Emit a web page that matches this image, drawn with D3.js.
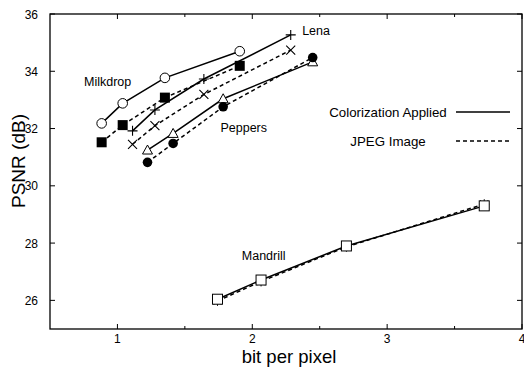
<!DOCTYPE html>
<html>
<head>
<meta charset="utf-8">
<script src="https://cdn.jsdelivr.net/npm/d3@7"></script>
<style>
  body { margin: 0; background: #fff; }
  text { font-family: "Liberation Sans", Arial, sans-serif; fill: #000; }
</style>
</head>
<body>
<svg id="chart" width="524" height="368"></svg>
<script>
// bit per pixel for each image (same rates for both codecs)
var milkdropX = [0.883, 1.039, 1.352, 1.907];
var milkdropColor = [32.18, 32.88, 33.77, 34.70];
var milkdropJpeg = [31.52, 32.12, 33.08, 34.19];

var lenaX = [1.112, 1.278, 1.641, 2.285];
var lenaColor = [31.92, 32.65, 33.73, 35.27];
var lenaJpeg = [31.45, 32.10, 33.19, 34.74];

var peppersX = [1.223, 1.413, 1.784, 2.448];
var peppersColor = [31.25, 31.83, 33.04, 34.33];
var peppersJpeg = [30.82, 31.48, 32.76, 34.48];

var mandrillX = [1.742, 2.065, 2.698, 3.72];
var mandrillColor = [26.04, 26.71, 27.90, 29.30];
var mandrillJpeg = [25.98, 26.66, 27.87, 29.36];

var xTicks = [1, 2, 3, 4];
var xMinor = [1.5, 2.5, 3.5];
var yTicks = [26, 28, 30, 32, 34, 36];

var svg = d3.select("#chart");
// note: "top" is taken by window.top, so use plot* names
var plotL = 50, plotR = 522, plotT = 14, plotB = 329;

var x = d3.scaleLinear().domain([0.5, 4]).range([plotL, plotR]);
var y = d3.scaleLinear().domain([25, 36]).range([plotB, plotT]);

// frame
svg.append("rect")
  .attr("x", plotL).attr("y", plotT)
  .attr("width", plotR - plotL).attr("height", plotB - plotT)
  .attr("fill", "none").attr("stroke", "#000").attr("stroke-width", 1.3);

// ticks, gnuplot style (inward, mirrored)
var ticks = svg.append("g").attr("stroke", "#000").attr("stroke-width", 1);
xTicks.forEach(function(t) {
  ticks.append("line").attr("x1", x(t)).attr("x2", x(t)).attr("y1", plotB).attr("y2", plotB - 5);
  ticks.append("line").attr("x1", x(t)).attr("x2", x(t)).attr("y1", plotT).attr("y2", plotT + 5);
});
xMinor.forEach(function(t) {
  ticks.append("line").attr("x1", x(t)).attr("x2", x(t)).attr("y1", plotB).attr("y2", plotB - 3);
  ticks.append("line").attr("x1", x(t)).attr("x2", x(t)).attr("y1", plotT).attr("y2", plotT + 3);
});
yTicks.forEach(function(t) {
  ticks.append("line").attr("x1", plotL).attr("x2", plotL + 5).attr("y1", y(t)).attr("y2", y(t));
  ticks.append("line").attr("x1", plotR).attr("x2", plotR - 5).attr("y1", y(t)).attr("y2", y(t));
});

svg.selectAll(".xlab").data(xTicks).enter().append("text")
  .attr("x", function(d) { return x(d); })
  .attr("y", plotB + 13.5)
  .attr("text-anchor", "middle")
  .style("font-size", "12px")
  .text(function(d) { return d; });

svg.selectAll(".ylab").data(yTicks).enter().append("text")
  .attr("x", plotL - 12)
  .attr("y", function(d) { return y(d) + 4.5; })
  .attr("text-anchor", "end")
  .style("font-size", "12px")
  .text(function(d) { return d; });

svg.append("text")
  .attr("x", 289).attr("y", 362.5)
  .attr("text-anchor", "middle")
  .style("font-size", "18.5px")
  .text("bit per pixel");

svg.append("text")
  .attr("transform", "translate(25,161) rotate(-90)")
  .attr("text-anchor", "middle")
  .style("font-size", "19px")
  .text("PSNR (dB)");

var line = d3.line()
  .x(function(d) { return x(d[0]); })
  .y(function(d) { return y(d[1]); });

function zip(xs, ys) { return xs.map(function(v, i) { return [v, ys[i]]; }); }

var series = [
  { xs: milkdropX, ys: milkdropColor, dash: null, mark: "circleOpen" },
  { xs: milkdropX, ys: milkdropJpeg, dash: "4,3", mark: "squareFilled" },
  { xs: lenaX, ys: lenaColor, dash: null, mark: "plus" },
  { xs: lenaX, ys: lenaJpeg, dash: "4,3", mark: "cross" },
  { xs: peppersX, ys: peppersColor, dash: null, mark: "triangleOpen" },
  { xs: peppersX, ys: peppersJpeg, dash: "4,3", mark: "circleFilled" },
  { xs: mandrillX, ys: mandrillJpeg, dash: "4,3", mark: "star" },
  { xs: mandrillX, ys: mandrillColor, dash: null, mark: "squareOpen" }
];

series.forEach(function(s) {
  var pts = zip(s.xs, s.ys);
  svg.append("path")
    .datum(pts)
    .attr("d", line)
    .attr("fill", "none")
    .attr("stroke", "#000")
    .attr("stroke-width", 1.5)
    .attr("stroke-dasharray", s.dash);

  var g = svg.append("g");
  pts.forEach(function(p) {
    var cx = x(p[0]), cy = y(p[1]);
    if (s.mark == "circleOpen") {
      g.append("circle").attr("cx", cx).attr("cy", cy).attr("r", 4.8)
        .attr("fill", "#fff").attr("stroke", "#000").attr("stroke-width", 1);
    } else if (s.mark == "circleFilled") {
      g.append("circle").attr("cx", cx).attr("cy", cy).attr("r", 4.8).attr("fill", "#000");
    } else if (s.mark == "squareFilled") {
      g.append("rect").attr("x", cx - 5).attr("y", cy - 5).attr("width", 10).attr("height", 10).attr("fill", "#000");
    } else if (s.mark == "squareOpen") {
      g.append("rect").attr("x", cx - 5).attr("y", cy - 5).attr("width", 10).attr("height", 10)
        .attr("fill", "#fff").attr("stroke", "#000").attr("stroke-width", 1);
    } else if (s.mark == "plus") {
      g.append("path").attr("d", "M" + (cx - 5) + "," + cy + "H" + (cx + 5) + "M" + cx + "," + (cy - 5) + "V" + (cy + 5))
        .attr("stroke", "#000").attr("stroke-width", 1.1);
    } else if (s.mark == "cross") {
      g.append("path").attr("d", "M" + (cx - 4.5) + "," + (cy - 4.5) + "L" + (cx + 4.5) + "," + (cy + 4.5) +
        "M" + (cx - 4.5) + "," + (cy + 4.5) + "L" + (cx + 4.5) + "," + (cy - 4.5))
        .attr("stroke", "#000").attr("stroke-width", 1.1);
    } else if (s.mark == "triangleOpen") {
      g.append("path").attr("d", "M" + cx + "," + (cy - 5) + "L" + (cx + 5) + "," + (cy + 4) + "L" + (cx - 5) + "," + (cy + 4) + "Z")
        .attr("fill", "#fff").attr("stroke", "#000").attr("stroke-width", 1);
    } else if (s.mark == "star") {
      g.append("path").attr("d", "M" + (cx - 4) + "," + (cy - 4) + "L" + (cx + 4) + "," + (cy + 4) +
        "M" + (cx - 4) + "," + (cy + 4) + "L" + (cx + 4) + "," + (cy - 4) +
        "M" + cx + "," + (cy - 5) + "V" + (cy + 5) + "M" + (cx - 5) + "," + cy + "H" + (cx + 5))
        .attr("stroke", "#000").attr("stroke-width", 0.9);
    }
  });
});

// series labels
var labels = [
  { t: "Milkdrop", x: 0.752, y: 33.5 },
  { t: "Lena", x: 2.37, y: 35.27 },
  { t: "Peppers", x: 1.764, y: 31.88 },
  { t: "Mandrill", x: 1.922, y: 27.41 }
];
svg.selectAll(".lbl").data(labels).enter().append("text")
  .attr("x", function(d) { return x(d.x); })
  .attr("y", function(d) { return y(d.y); })
  .style("font-size", "12.5px")
  .text(function(d) { return d.t; });

// legend
var legend = [
  { t: "Colorization Applied", dash: null, ly: 112 },
  { t: "JPEG Image", dash: "4,3", ly: 141 }
];
legend.forEach(function(l) {
  svg.append("text").attr("x", 388).attr("y", l.ly + 4.5)
    .attr("text-anchor", "middle").style("font-size", "13.3px").text(l.t);
  svg.append("line").attr("x1", 456).attr("x2", 510).attr("y1", l.ly).attr("y2", l.ly)
    .attr("stroke", "#000").attr("stroke-width", 1.5).attr("stroke-dasharray", l.dash);
});
</script>
</body>
</html>
